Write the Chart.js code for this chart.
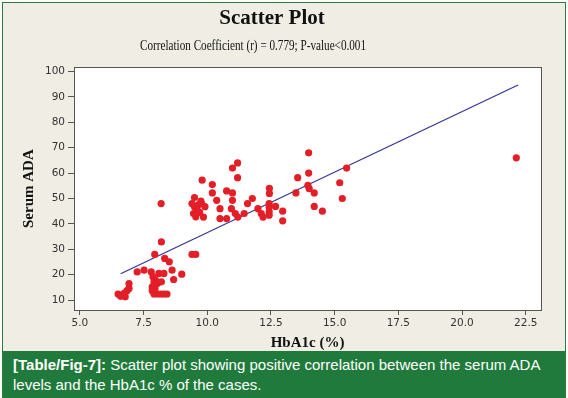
<!DOCTYPE html>
<html>
<head>
<meta charset="utf-8">
<script src="https://cdn.jsdelivr.net/npm/chart.js@4.4.0/dist/chart.umd.min.js"></script>
<style>
  html, body { margin: 0; padding: 0; background: #ffffff; }
  #marco {
    position: absolute; left: 2px; top: 2px; width: 562px; height: 396px;
    border: 1.5px solid #2d7a3e; border-bottom: none; background: #efede4; overflow: hidden;
  }
  #lienzo { position: absolute; left: -3px; top: -3px; }
  #pie {
    position: absolute; left: 0; top: 348px; width: 562px; height: 50px;
    background: #1f7a3b; color: #ffffff;
    font-family: "Liberation Sans", Arial, sans-serif; font-size: 15px; line-height: 20px;
    padding: 4px 0 0 10px; box-sizing: border-box;
  }
</style>
</head>
<body>
<div id="marco">
  <canvas id="lienzo" width="568" height="356"></canvas>
  <div id="pie"><b>[Table/Fig-7]:</b> Scatter plot showing positive correlation between the serum ADA<br>levels and the HbA1c % of the cases.</div>
</div>
<script>
// HbA1c (%) de cada caso
var hba1c = [
  6.5, 6.65, 6.78, 6.85, 6.93, 6.93, 6.6, 6.75,
  7.25, 7.52,
  7.8, 7.87, 7.91, 7.84, 7.84, 7.91, 8.04, 8.17, 8.3, 8.42,
  7.97, 8.04, 8.1, 8.2, 7.95, 8.3,
  7.94, 8.2, 8.33, 8.51, 8.62, 8.68, 9.0, 9.4, 9.55, 8.19,
  9.4, 9.5, 9.5, 9.46, 9.55, 9.65, 9.7, 9.75, 9.78, 9.85, 9.91, 9.6, 9.8,
  10.2, 10.2, 10.37, 10.5, 10.5, 10.76, 10.76, 10.99, 11.19, 11.19,
  10.99, 10.99, 10.95, 11.1, 11.2, 11.45, 11.58, 11.77, 11.99, 12.12, 12.19,
  12.44, 12.44, 12.43, 12.43, 12.43, 12.43, 12.68, 12.96, 12.96,
  13.55, 13.48, 13.98, 13.98, 13.95, 14.0, 14.2, 14.2, 14.52,
  15.2, 15.3, 15.47, 22.13
];
// Serum ADA de cada caso
var ada = [
  12.4, 12.0, 11.3, 13.7, 14.6, 16.5, 11.5, 12.8,
  21.1, 21.8,
  21.1, 19.2, 17.2, 15.2, 13.7, 12.4, 12.4, 12.4, 12.4, 12.4,
  17.9, 16.5, 20.5, 17.2, 14.5, 20.5,
  28.0, 32.9, 26.4, 25.1, 21.8, 18.1, 20.2, 28.0, 28.0, 48.0,
  48.0, 50.4, 46.8, 44.1, 42.8, 47.5, 44.5, 49.0, 48.0, 42.7, 46.8, 45.5, 57.2,
  55.5, 52.2, 49.3, 46.0, 42.1, 53.0, 42.1, 62.0, 64.0, 58.2,
  52.2, 49.3, 46.0, 44.1, 42.7, 44.1, 48.0, 50.0, 46.0, 44.1, 42.7,
  54.0, 52.0, 48.0, 46.7, 44.7, 43.4, 46.9, 45.0, 41.2,
  58.2, 52.2, 68.0, 60.0, 55.2, 53.9, 52.2, 46.9, 45.0,
  56.2, 50.0, 62.0, 66.0
];
// recta de ajuste (extremos)
var ajusteX = [6.6, 22.2];
var ajusteY = [20.4, 94.7];

var titulo = 'Scatter Plot';
var subtitulo = 'Correlation Coefficient (r) = 0.779; P-value<0.001';

var puntos = [];
for (let i = 0; i < hba1c.length; i++) {
    puntos.push({x: hba1c[i], y: ada[i]});
}
var recta = [];
for (let i = 0; i < ajusteX.length; i++) {
    recta.push({x: ajusteX[i], y: ajusteY[i]});
}

var marcoArea = {
    id: 'marcoArea',
    beforeDatasetsDraw: function(chart){
        var a = chart.chartArea, ctx = chart.ctx;
        ctx.save();
        ctx.fillStyle = '#ffffff';
        ctx.fillRect(a.left, a.top, a.right - a.left, a.bottom - a.top);
        ctx.restore();
    },
    afterDraw: function(chart){
        var a = chart.chartArea, ctx = chart.ctx;
        ctx.save();
        ctx.strokeStyle = '#555555';
        ctx.lineWidth = 1;
        ctx.strokeRect(Math.round(a.left) + 0.5, Math.round(a.top) + 0.5,
                       Math.round(a.right - a.left), Math.round(a.bottom - a.top));
        // subtitulo, algo estrecho como en el original
        ctx.font = '14.5px "Liberation Serif", "Times New Roman", serif';
        ctx.fillStyle = '#111111';
        ctx.textAlign = 'center';
        ctx.textBaseline = 'middle';
        var w = ctx.measureText(subtitulo).width;
        var k = 226 / w;
        ctx.translate(253, 46);
        ctx.scale(k, 1);
        ctx.fillText(subtitulo, 0, 0);
        ctx.restore();
    }
};

var fuenteTicks = {family: '"DejaVu Sans", Verdana, sans-serif', size: 10.5};

new Chart(document.getElementById('lienzo'), {
    type: 'scatter',
    data: {
        datasets: [{
            label: 'Serum ADA',
            data: puntos,
            backgroundColor: 'rgb(228, 30, 38)',
            borderColor: 'rgb(228, 30, 38)',
            pointRadius: 3.6,
            pointHoverRadius: 3.6,
            borderWidth: 0
        }, {
            type: 'line',
            label: 'Ajuste',
            data: recta,
            borderColor: 'rgb(52, 52, 150)',
            borderWidth: 1.2,
            pointRadius: 0,
            fill: false
        }]
    },
    plugins: [marcoArea],
    options: {
        responsive: false,
        animation: false,
        layout: {padding: {left: 3, right: 27, top: 3, bottom: 0}},
        plugins: {
            legend: {display: false},
            tooltip: {enabled: false},
            title: {
                display: true,
                text: titulo,
                color: '#111111',
                font: {family: '"Liberation Serif", "Times New Roman", serif', size: 21, weight: 'bold'},
                padding: {top: 3, bottom: 36}
            }
        },
        scales: {
            x: {
                type: 'linear',
                min: 4.77,
                max: 23.1,
                border: {display: false},
                grid: {drawOnChartArea: false, drawTicks: true, tickLength: 5, color: '#555555'},
                ticks: {
                    stepSize: 2.5,
                    includeBounds: false,
                    padding: 2,
                    color: '#333333',
                    font: fuenteTicks,
                    callback: function(v){ return v.toFixed(1); }
                },
                title: {
                    display: true,
                    text: 'HbA1c (%)',
                    color: '#111111',
                    font: {family: '"Liberation Serif", "Times New Roman", serif', size: 15, weight: 'bold'},
                    padding: {top: 0, bottom: 4}
                },
                afterFit: function(scale){ scale.height = 46; }
            },
            y: {
                min: 6.1,
                max: 101.7,
                border: {display: false},
                grid: {drawOnChartArea: false, drawTicks: true, tickLength: 6, color: '#555555'},
                ticks: {
                    stepSize: 10,
                    includeBounds: false,
                    padding: 3,
                    color: '#333333',
                    font: fuenteTicks
                },
                title: {
                    display: true,
                    text: 'Serum ADA',
                    color: '#111111',
                    font: {family: '"Liberation Serif", "Times New Roman", serif', size: 15, weight: 'bold'},
                    padding: {top: 17, bottom: 0}
                },
                afterFit: function(scale){ scale.width = 71; }
            }
        }
    }
});
</script>
</body>
</html>
